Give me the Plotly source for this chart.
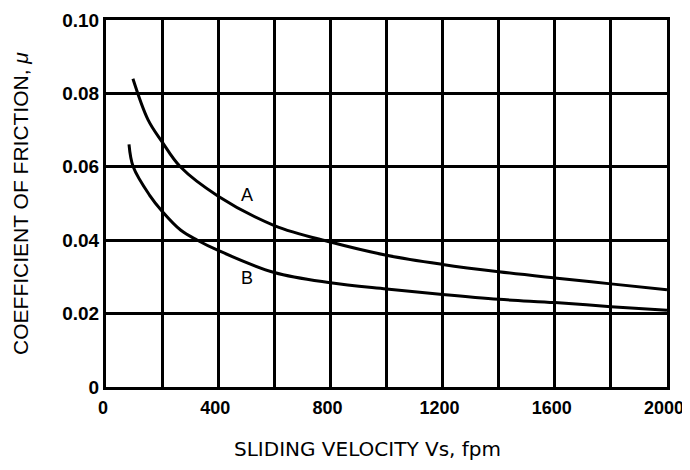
import plotly.graph_objects as go

# Curve A
a_x = [96, 150, 200, 265, 400, 600, 800, 1000, 1200, 1400, 1600, 1800, 2000]
a_y = [0.0840, 0.0728, 0.0668, 0.0600, 0.0520, 0.0440, 0.0395, 0.0359, 0.0334, 0.0314, 0.0297, 0.0281, 0.0265]
# Curve B
b_x = [82, 97, 155, 200, 267, 326, 400, 600, 800, 1000, 1200, 1400, 1600, 1800, 2000]
b_y = [0.0661, 0.0600, 0.0523, 0.0479, 0.0427, 0.0400, 0.0372, 0.0312, 0.0284, 0.0267, 0.0252, 0.0239, 0.0230, 0.0219, 0.0209]

x_tickvals = [0, 200, 400, 600, 800, 1000, 1200, 1400, 1600, 1800, 2000]
x_ticktext = ["0", "", "400", "", "800", "", "1200", "", "1600", "", "2000"]
y_tickvals = [0, 0.02, 0.04, 0.06, 0.08, 0.10]
y_ticktext = ["0", "0.02", "0.04", "0.06", "0.08", "0.10"]

labels = [("A", 504, 0.0522), ("B", 504, 0.0298)]
x_title = "SLIDING VELOCITY Vs, fpm"
y_title = "COEFFICIENT OF FRICTION, <i>μ</i>"

fig = go.Figure()
fig.add_trace(go.Scatter(x=a_x, y=a_y, mode="lines", line=dict(color="black", width=3, shape="spline"), showlegend=False))
fig.add_trace(go.Scatter(x=b_x, y=b_y, mode="lines", line=dict(color="black", width=3, shape="spline"), showlegend=False))

for t, x, y in labels:
    fig.add_annotation(x=x, y=y, text=t, showarrow=False,
                       font=dict(family="Liberation Sans", size=18, color="black"))

fig.add_annotation(xref="paper", yref="paper", x=0.466, y=-0.169, xanchor="center", yanchor="middle",
                   text=x_title, showarrow=False,
                   font=dict(family="DejaVu Sans", size=20, color="black"))

fig.update_layout(
    width=682, height=452,
    margin=dict(l=98, r=23, t=12, b=73),
    paper_bgcolor="white", plot_bgcolor="white",
    xaxis=dict(range=[0, 2000], tickvals=x_tickvals, ticktext=x_ticktext,
               showgrid=True, gridcolor="black", gridwidth=3,
               showline=True, linecolor="black", linewidth=3, mirror=True,
               zeroline=False, ticks="", ticklabelstandoff=2, ticklabelshift=-3,
               automargin=False,
               tickfont=dict(family="Liberation Sans", size=18, color="black", weight="bold")),
    yaxis=dict(range=[0, 0.10], tickvals=y_tickvals, ticktext=y_ticktext,
               showgrid=True, gridcolor="black", gridwidth=3,
               showline=True, linecolor="black", linewidth=3, mirror=True,
               zeroline=False, ticks="", ticklabelstandoff=0, automargin=False,
               tickfont=dict(family="Liberation Sans", size=19, color="black", weight="bold"),
               title=dict(text=y_title, standoff=28,
                          font=dict(family="Liberation Sans", size=21, color="black"))),
)

fig.write_html("out.html", post_script="document.body.style.overflow='hidden';")
